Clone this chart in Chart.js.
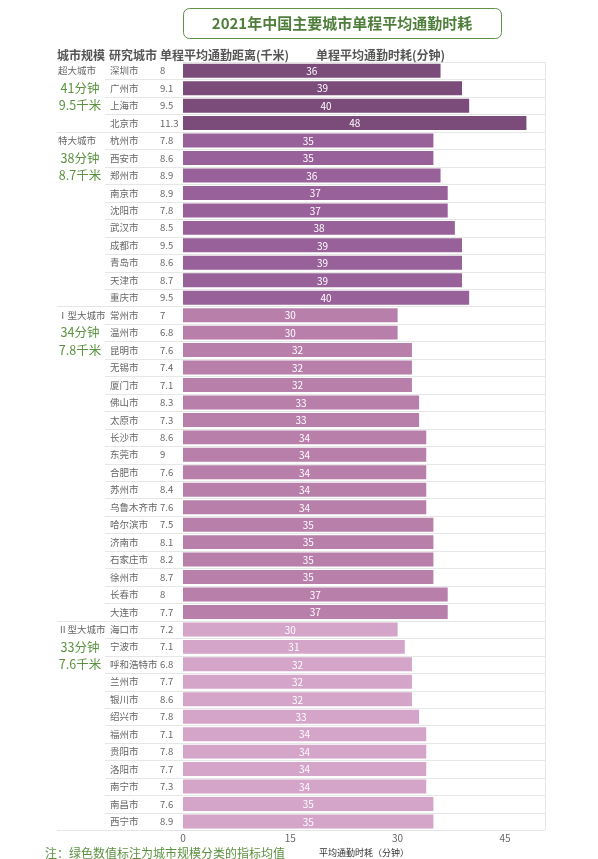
<!DOCTYPE html>
<html lang="zh">
<head>
<meta charset="UTF-8">
<title>2021年中国主要城市单程平均通勤时耗</title>
<script src="https://cdn.jsdelivr.net/npm/chart.js"></script>
<style>
    html, body { margin: 0; padding: 0; background: #ffffff; }
    canvas { display: block; }
</style>
</head>
<body>
<canvas id="commuteChart" width="598" height="859"></canvas>
<script>
// city list, top to bottom
const cities = [
    '深圳市', '广州市', '上海市', '北京市',
    '杭州市', '西安市', '郑州市', '南京市', '沈阳市', '武汉市', '成都市', '青岛市', '天津市', '重庆市',
    '常州市', '温州市', '昆明市', '无锡市', '厦门市', '佛山市', '太原市', '长沙市', '东莞市', '合肥市',
    '苏州市', '乌鲁木齐市', '哈尔滨市', '济南市', '石家庄市', '徐州市', '长春市', '大连市',
    '海口市', '宁波市', '呼和浩特市', '兰州市', '银川市', '绍兴市', '福州市', '贵阳市', '洛阳市', '南宁市', '南昌市', '西宁市'
];
// one-way average commute distance (km)
const distances = [
    8, 9.1, 9.5, 11.3,
    7.8, 8.6, 8.9, 8.9, 7.8, 8.5, 9.5, 8.6, 8.7, 9.5,
    7, 6.8, 7.6, 7.4, 7.1, 8.3, 7.3, 8.6, 9, 7.6,
    8.4, 7.6, 7.5, 8.1, 8.2, 8.7, 8, 7.7,
    7.2, 7.1, 6.8, 7.7, 8.6, 7.8, 7.1, 7.8, 7.7, 7.3, 7.6, 8.9
];
// one-way average commute time (minutes)
const minutes = [
    36, 39, 40, 48,
    35, 35, 36, 37, 37, 38, 39, 39, 39, 40,
    30, 30, 32, 32, 32, 33, 33, 34, 34, 34,
    34, 34, 35, 35, 35, 35, 37, 37,
    30, 31, 32, 32, 32, 33, 34, 34, 34, 34, 35, 35
];
// city size groups
const groupNames = ['超大城市', '特大城市', 'Ⅰ型大城市', 'Ⅱ型大城市'];
const groupSizes = [4, 10, 18, 12];
const groupMinutes = ['41分钟', '38分钟', '34分钟', '33分钟'];
const groupKm = ['9.5千米', '8.7千米', '7.8千米', '7.6千米'];
const xTicks = [0, 15, 30, 45];

const groupColors = ['#7b4b7a', '#98619a', '#b87fab', '#d4a4c9'];
const FONT = '"Noto Sans CJK SC", "Noto Sans", sans-serif';

// which group each row belongs to
const groupOf = [];
groupSizes.forEach((n, g) => { for (let i = 0; i < n; i++) groupOf.push(g); });
const groupStart = groupSizes.map((n, g) => groupSizes.slice(0, g).reduce((a, b) => a + b, 0));

const tablePlugin = {
    id: 'tablePlugin',
    beforeDatasetsDraw(chart) {
        const c = chart.ctx;
        const area = chart.chartArea;
        const y = chart.scales.y;
        c.save();
        c.strokeStyle = '#e6e6e6';
        c.lineWidth = 1;
        // top line over plot only
        c.beginPath();
        c.moveTo(area.left, area.top + 0.5);
        c.lineTo(area.right, area.top + 0.5);
        c.stroke();
        for (let i = 0; i < cities.length; i++) {
            const yb = i < cities.length - 1
                ? (y.getPixelForValue(i) + y.getPixelForValue(i + 1)) / 2
                : area.bottom;
            const groupEnd = i === cities.length - 1 || groupOf[i + 1] !== groupOf[i];
            c.beginPath();
            c.moveTo(groupEnd ? 57 : 105, Math.round(yb) + 0.5);
            c.lineTo(area.right, Math.round(yb) + 0.5);
            c.stroke();
        }
        // right border
        c.beginPath();
        c.moveTo(area.right + 0.5, area.top);
        c.lineTo(area.right + 0.5, area.bottom);
        c.stroke();
        c.restore();
    },
    afterDatasetsDraw(chart) {
        const c = chart.ctx;
        const meta = chart.getDatasetMeta(0);
        c.save();
        c.fillStyle = '#ffffff';
        c.font = '10px ' + FONT;
        c.textAlign = 'center';
        c.textBaseline = 'middle';
        meta.data.forEach((bar, i) => {
            c.fillText(String(minutes[i]), (bar.base + bar.x) / 2, bar.y + 0.5);
        });
        c.restore();
    },
    afterDraw(chart) {
        const c = chart.ctx;
        const y = chart.scales.y;
        c.save();

        // title box
        c.strokeStyle = '#5e9048';
        c.lineWidth = 1;
        c.beginPath();
        c.roundRect(183.5, 8.5, 318, 30, 6);
        c.stroke();
        c.fillStyle = '#4e7e3a';
        c.font = 'bold 15px ' + FONT;
        c.textAlign = 'center';
        c.textBaseline = 'middle';
        c.fillText('2021年中国主要城市单程平均通勤时耗', 342, 23);

        // header row
        c.fillStyle = '#555555';
        c.font = 'bold 12px ' + FONT;
        c.textAlign = 'left';
        c.fillText('城市规模', 57, 55);
        c.fillText('研究城市', 109, 55);
        c.fillText('单程平均通勤距离(千米)', 160, 55);
        c.fillText('单程平均通勤时耗(分钟)', 316, 55);

        // city and distance columns
        c.font = '9.5px ' + FONT;
        c.fillStyle = '#666666';
        cities.forEach((name, i) => {
            const yy = y.getPixelForValue(i);
            c.fillText(name, 110, yy);
            c.fillText(String(distances[i]), 160, yy);
        });

        // group labels and green averages
        groupNames.forEach((name, g) => {
            const s = groupStart[g];
            c.fillStyle = '#666666';
            c.font = '9.5px ' + FONT;
            c.textAlign = 'left';
            c.fillText(name, 58, y.getPixelForValue(s));
            c.fillStyle = '#5b9140';
            c.font = '12.5px ' + FONT;
            c.textAlign = 'center';
            c.fillText(groupMinutes[g], 80, y.getPixelForValue(s + 1));
            c.fillText(groupKm[g], 80, y.getPixelForValue(s + 2));
        });

        // footnote
        c.fillStyle = '#5b9140';
        c.font = '12px ' + FONT;
        c.textAlign = 'left';
        c.fillText('注：绿色数值标注为城市规模分类的指标均值', 45, 853);
        c.restore();
    }
};

new Chart(document.getElementById('commuteChart'), {
    type: 'bar',
    data: {
        labels: cities,
        datasets: [{
            data: minutes,
            backgroundColor: groupOf.map(g => groupColors[g]),
            borderWidth: 0,
            barPercentage: 0.8,
            categoryPercentage: 1
        }]
    },
    options: {
        indexAxis: 'y',
        responsive: false,
        animation: false,
        layout: { padding: { left: 183, right: 53, top: 62, bottom: 0 } },
        plugins: {
            legend: { display: false },
            tooltip: { enabled: false }
        },
        scales: {
            y: { display: false },
            x: {
                min: 0,
                max: 50.6,
                grid: { display: false, drawTicks: false },
                border: { display: false },
                afterBuildTicks: (scale) => { scale.ticks = xTicks.map(v => ({ value: v })); },
                ticks: {
                    color: '#666666',
                    font: { size: 10, family: FONT },
                    padding: 2,
                    maxRotation: 0
                },
                title: {
                    display: true,
                    text: '平均通勤时耗（分钟）',
                    color: '#333333',
                    font: { size: 9, family: FONT },
                    padding: { top: 1, bottom: 1 }
                }
            }
        }
    },
    plugins: [tablePlugin]
});
</script>
</body>
</html>
